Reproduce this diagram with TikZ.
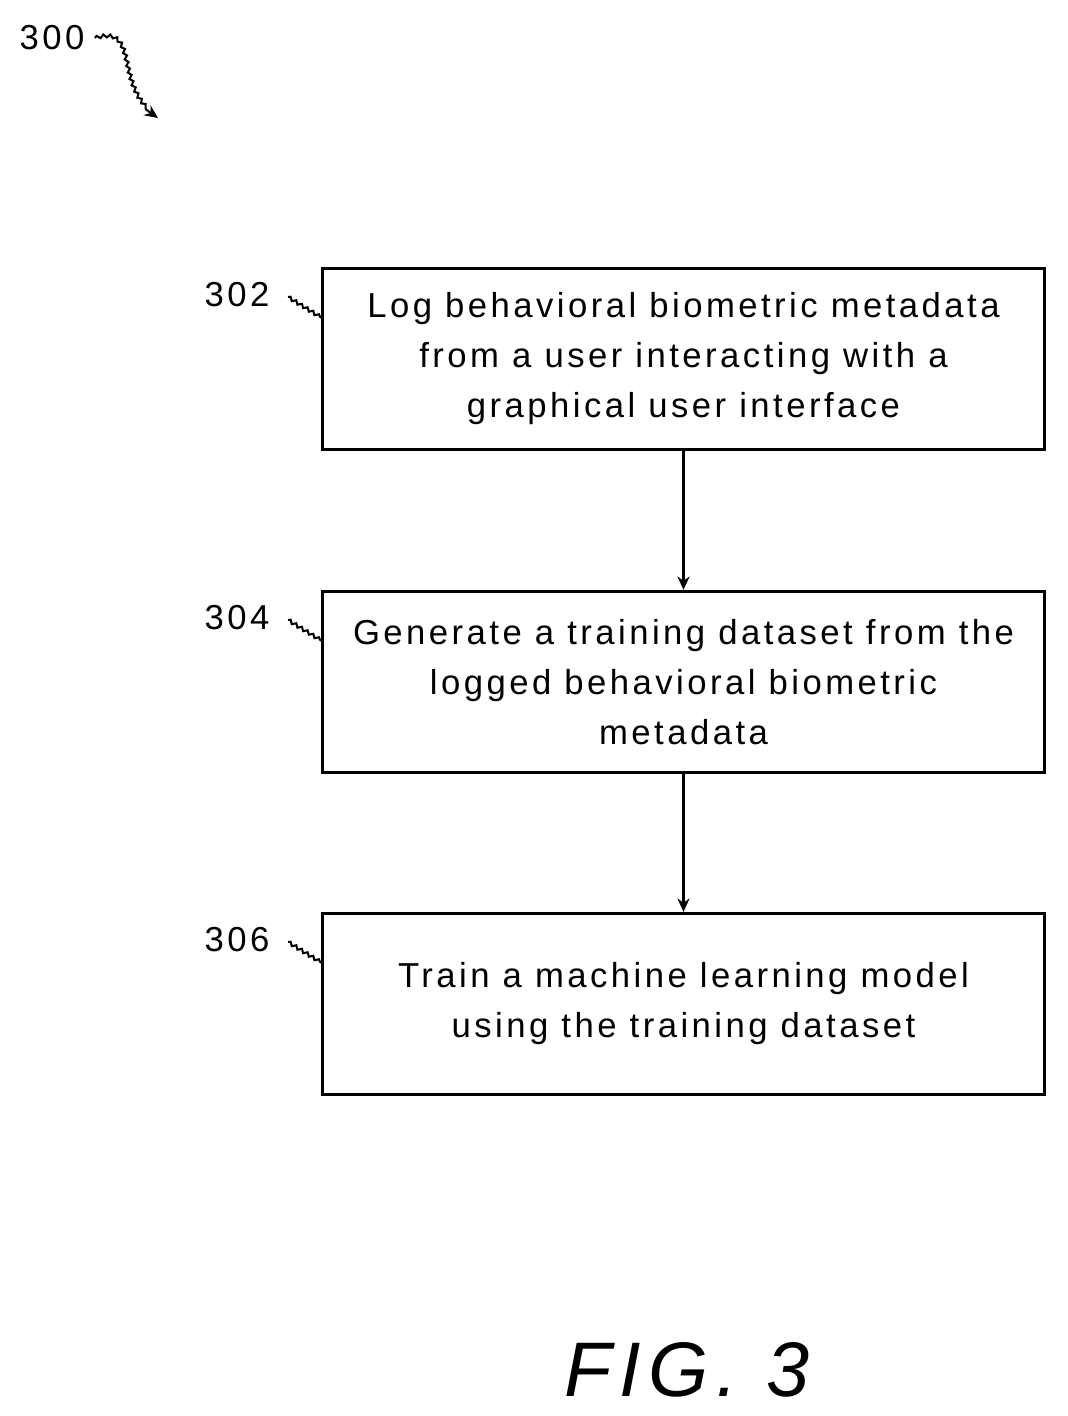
\documentclass[tikz,border=0pt]{standalone}
\usepackage{fontspec}
\setmainfont{Liberation Sans}[LetterSpace=10]
\usetikzlibrary{arrows.meta,decorations.pathmorphing}
\begin{document}
\begin{tikzpicture}[x=0.75pt,y=-0.75pt,
  box/.style={draw,line width=2.2pt,minimum width=542pt,minimum height=136pt,align=center,font=\fontsize{26}{37.5}\selectfont,inner sep=0pt},
  lbl/.style={font=\fontsize{26}{28}\selectfont},
  arr/.style={-{Stealth[length=10pt,width=9pt]},line width=2pt},
  sq/.style={line width=1.5pt,decorate,decoration={snake,amplitude=1.2pt,segment length=5pt}}]
\useasboundingbox (0,0) rectangle (1067,1416);
\node[box] (b1) at (683.5,359) {Log behavioral biometric metadata\\from a user interacting with a\\graphical user interface};
\node[box] (b2) at (683.5,682) {Generate a training dataset from the\\logged behavioral biometric\\metadata};
\node[box] (b3) at (683.5,1004) {Train a machine learning model\\using the training dataset};
\draw[arr] (b1) -- (b2);
\draw[arr] (b2) -- (b3);
\node[lbl] (l1) at (237,295) {302};
\node[lbl] (l2) at (237,618) {304};
\node[lbl] (l3) at (237,940) {306};
\coordinate (c1a) at (288,297); \coordinate (c1b) at (322,318);
\coordinate (c2a) at (288,620); \coordinate (c2b) at (322,641);
\coordinate (c3a) at (288,942); \coordinate (c3b) at (322,963);
\draw[sq] (c1a) -- (c1b);
\draw[sq] (c2a) -- (c2b);
\draw[sq] (c3a) -- (c3b);
\node[lbl] (l0) at (52,38) {300};
\coordinate (s0) at (95,38);
\coordinate (e0) at (158,118);
\draw[line width=1.5pt,decorate,decoration={snake,amplitude=1.2pt,segment length=5pt,post length=8pt},-{Stealth[length=10pt,width=9pt]}] (s0) .. controls (140,25) and (110,90) .. (e0);
\node[font=\fontsize{58}{60}\selectfont\itshape] (fig) at (687,1370) {FIG. 3};
\end{tikzpicture}
\end{document}
